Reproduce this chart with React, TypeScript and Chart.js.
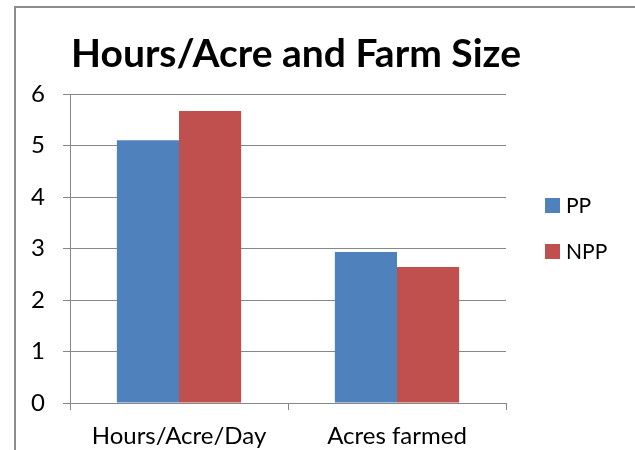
import React, { useEffect, useRef } from "react";
import { Chart, registerables } from "chart.js";

Chart.register(...registerables);

const categories = ["Hours/Acre/Day", "Acres farmed"];
const seriesNames = ["PP", "NPP"];
const ppValues = [5.1, 2.93];
const nppValues = [5.67, 2.64];
const seriesColors = ["#4F81BD", "#C0504D"];
const yMin = 0;
const yMax = 6;
const yStep = 1;
const titleText = "Hours/Acre and Farm Size";

const FONT = "Lato, Carlito, Calibri, sans-serif";
const GRID = "#878787";

const decorPlugin = {
  id: "decor",
  beforeDraw(chart: any) {
    const ctx = chart.ctx;
    ctx.save();
    ctx.fillStyle = "#ffffff";
    ctx.fillRect(0, 0, chart.width, chart.height);
    ctx.strokeStyle = "#8c8c8c";
    ctx.lineWidth = 2;
    ctx.strokeRect(15, 7, 800, 800);
    ctx.restore();
  },
  afterDraw(chart: any) {
    const ctx = chart.ctx;
    ctx.save();
    ctx.fillStyle = "#000000";
    ctx.font = `bold 39px ${FONT}`;
    ctx.textAlign = "center";
    ctx.textBaseline = "alphabetic";
    ctx.fillText(titleText, 296, 67);

    ctx.font = `21px ${FONT}`;
    ctx.textAlign = "left";
    ctx.textBaseline = "middle";
    chart.data.datasets.forEach((ds: any, i: number) => {
      const yc = 205 + i * 46;
      ctx.fillStyle = ds.backgroundColor;
      ctx.fillRect(545, yc - 7, 15, 15);
      ctx.fillStyle = "#000000";
      ctx.fillText(ds.label, 566, yc + 1);
    });
    ctx.restore();
  },
};

function BarChart() {
  const ref = useRef<HTMLCanvasElement | null>(null);
  useEffect(() => {
    if (!ref.current) return;
    const chart = new Chart(ref.current, {
      type: "bar",
      data: {
        labels: categories,
        datasets: [
          {
            label: seriesNames[0],
            data: ppValues,
            backgroundColor: seriesColors[0],
            categoryPercentage: 0.57,
            barPercentage: 1,
          },
          {
            label: seriesNames[1],
            data: nppValues,
            backgroundColor: seriesColors[1],
            categoryPercentage: 0.57,
            barPercentage: 1,
          },
        ],
      },
      options: {
        animation: false,
        responsive: false,
        maintainAspectRatio: false,
        layout: { padding: { left: 0, top: 94, right: 129, bottom: 0 } },
        plugins: {
          legend: { display: false },
          title: { display: false },
          tooltip: { enabled: false },
        },
        scales: {
          x: {
            afterFit(scale: any) {
              scale.height = 47;
            },
            grid: {
              display: true,
              drawOnChartArea: false,
              drawTicks: true,
              tickLength: 7,
              color: GRID,
              lineWidth: 1,
            },
            border: { display: true, color: GRID, width: 1 },
            ticks: {
              color: "#000000",
              font: { family: FONT, size: 24 },
              padding: 12,
              maxRotation: 0,
            },
          },
          y: {
            min: yMin,
            max: yMax,
            afterFit(scale: any) {
              scale.width = 70;
            },
            grid: {
              color: GRID,
              lineWidth: 1,
              drawTicks: true,
              tickLength: 7,
            },
            border: { display: true, color: GRID, width: 1 },
            ticks: {
              stepSize: yStep,
              color: "#000000",
              font: { family: FONT, size: 24 },
              padding: 18,
            },
          },
        },
      },
      plugins: [decorPlugin],
    });
    return () => chart.destroy();
  }, []);
  return <canvas ref={ref} width={635} height={450} style={{ display: "block" }} />;
}

export default function App() {
  return (
    <div style={{ position: "absolute", left: 0, top: 0, width: 635, height: 450, background: "#fff" }}>
      <BarChart />
    </div>
  );
}
